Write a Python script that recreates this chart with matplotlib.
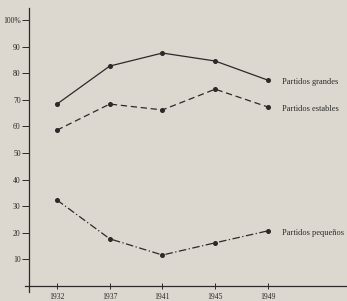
import matplotlib
matplotlib.use('Agg')
import matplotlib.pyplot as plt
import numpy as np

YEARS = ['1932', '1937', '1941', '1945', '1949']
GRANDES = [68.4, 82.7, 87.6, 84.6, 77.4]
ESTABLES = [58.6, 68.4, 66.2, 74.0, 67.3]
PEQUENOS = [32.3, 17.7, 11.6, 16.2, 20.7]
Y_TICKS = [10, 20, 30, 40, 50, 60, 70, 80, 90, 100]
Y_LABELS = ['10', '20', '30', '40', '50', '60', '70', '80', '90', '100%']

plt.rcParams['font.family'] = ['Liberation Serif', 'DejaVu Serif']
BG = '#ddd8cf'
INK = '#2b2a28'

fig = plt.figure(figsize=(3.47, 3.01), dpi=100, facecolor=BG)
ax = fig.add_axes([0.072, 0.03, 0.928, 0.943])
ax.set_facecolor(BG)

xs = np.arange(len(YEARS))
series = [
    (GRANDES, '-', 'Partidos grandes'),
    (ESTABLES, (0, (5, 3)), 'Partidos estables'),
    (PEQUENOS, (0, (6, 2, 1, 2)), 'Partidos pequeños'),
]
for vals, ls, name in series:
    ax.plot(xs, vals, color=INK, linewidth=0.9, linestyle=ls,
            marker='o', markersize=2.6, markerfacecolor=INK, markeredgecolor=INK)
    ax.annotate(name, xy=(xs[-1], vals[-1]), xytext=(10, -1.5),
                textcoords='offset points', va='center', ha='left',
                fontsize=6, color=INK)

ax.set_xlim(-0.607, 5.5)
ax.set_ylim(-2.3, 104.5)

ax.spines['right'].set_color('none')
ax.spines['top'].set_color('none')
ax.spines['left'].set_position(('data', -0.53))
ax.spines['bottom'].set_position(('data', 0))
for s in ('left', 'bottom'):
    ax.spines[s].set_color(INK)
    ax.spines[s].set_linewidth(0.9)

ax.set_xticks(xs)
ax.set_xticklabels(YEARS)
ax.set_yticks(Y_TICKS)
ax.set_yticklabels(Y_LABELS)
ax.tick_params(axis='x', direction='inout', length=4, width=0.7, colors=INK,
               labelsize=5.5, pad=3)
ax.tick_params(axis='y', direction='out', length=5, width=0.7, colors=INK,
               labelsize=5.5, pad=1)

fig.savefig('out.png', dpi=100, facecolor=BG)
